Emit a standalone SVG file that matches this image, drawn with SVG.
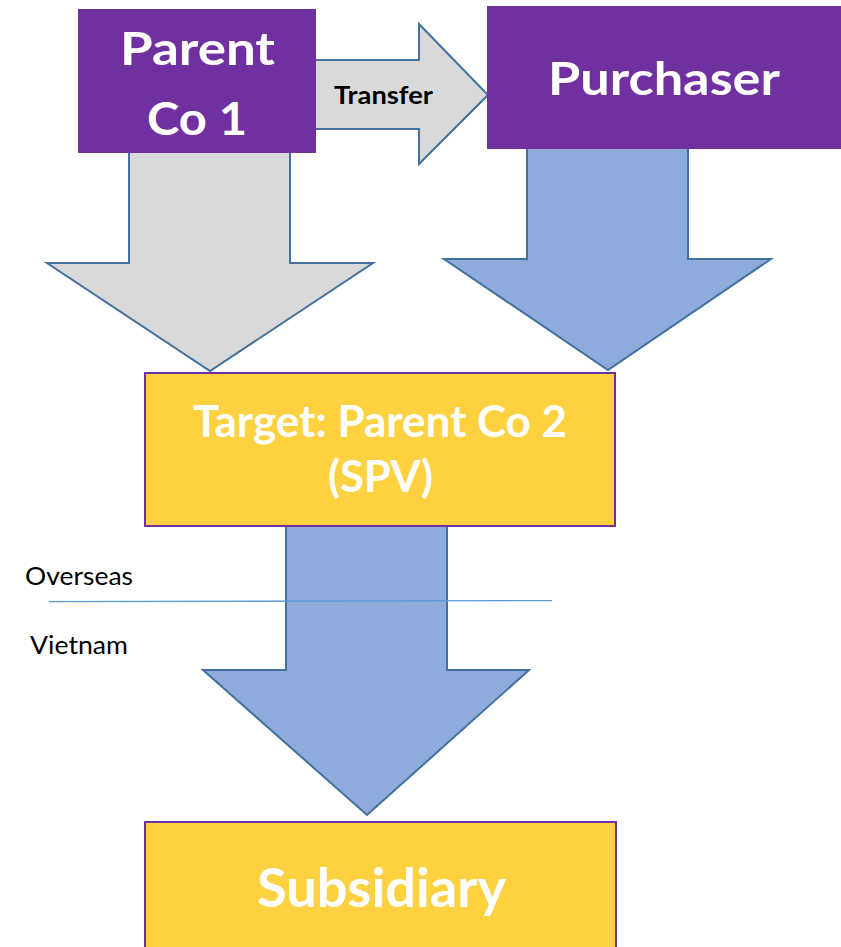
<svg xmlns="http://www.w3.org/2000/svg" width="841" height="947" viewBox="0 0 841 947">
  <style>
    .purple { fill: #7030A0; }
    .gold { fill: #FED140; stroke: #7030A0; stroke-width: 2; }
    .arrow-grey { fill: #D9D9D9; stroke: #41719C; stroke-width: 2; stroke-linejoin: miter; }
    .arrow-blue { fill: #8FABDB; stroke: #41719C; stroke-width: 2; stroke-linejoin: miter; }
    .label { font-family: Lato, "Liberation Sans", sans-serif; font-weight: bold; fill: #FFFFFF; text-anchor: middle; }
    .small { font-family: Lato, "Liberation Sans", sans-serif; fill: #000000; }
    .divider { stroke: #5B9BD5; stroke-width: 1.3; fill: none; }
  </style>

  <rect width="841" height="947" fill="#FFFFFF"/>

  <!-- block arrows between entities -->
  <g id="connectors">
    <!-- Parent Co 1 to Purchaser: transfer -->
    <polygon class="arrow-grey" points="315,60 419,60 419,24 488,95 419,164 419,129 315,129"/>
    <!-- Parent Co 1 down to the SPV -->
    <polygon class="arrow-grey" points="129,152 290,152 290,263 373,263 210,371 47,263 129,263"/>
    <!-- Purchaser down to the SPV -->
    <polygon class="arrow-blue" points="527,148 688,148 688,259 771,259 608,370 444,259 527,259"/>
    <!-- SPV down to the subsidiary -->
    <polygon class="arrow-blue" points="286,525 447,525 447,670 529,670 367,815 203,670 286,670"/>
  </g>

  <g id="parent-co-1">
    <rect class="purple" x="78" y="9" width="238" height="144"/>
    <text class="label" x="197.5" y="65" font-size="46" textLength="155" lengthAdjust="spacingAndGlyphs">Parent</text>
    <text class="label" x="197" y="135" font-size="46" textLength="100" lengthAdjust="spacingAndGlyphs">Co 1</text>
  </g>

  <g id="purchaser">
    <rect class="purple" x="487" y="6" width="360" height="143"/>
    <text class="label" x="664" y="95" font-size="46" textLength="232" lengthAdjust="spacingAndGlyphs">Purchaser</text>
  </g>

  <g id="transfer-label">
    <text x="383.5" y="104" font-family="Lato, 'Liberation Sans', sans-serif" font-weight="bold" font-size="24" fill="#000000" text-anchor="middle" textLength="99" lengthAdjust="spacingAndGlyphs">Transfer</text>
  </g>

  <g id="target-spv">
    <rect class="gold" x="145" y="373" width="470" height="153"/>
    <text class="label" x="380" y="437" font-size="43" textLength="374" lengthAdjust="spacingAndGlyphs">Target: Parent Co 2</text>
    <text class="label" x="380.5" y="492" font-size="43" textLength="105" lengthAdjust="spacingAndGlyphs">(SPV)</text>
  </g>

  <g id="subsidiary">
    <rect class="gold" x="145" y="822" width="471" height="140"/>
    <text class="label" x="381.5" y="907" font-size="53" textLength="249" lengthAdjust="spacingAndGlyphs">Subsidiary</text>
  </g>

  <!-- jurisdiction boundary -->
  <g id="boundary">
    <line class="divider" x1="49" y1="601.7" x2="552" y2="600.6"/>
    <text class="small" x="25" y="585" font-size="25" textLength="108" lengthAdjust="spacingAndGlyphs">Overseas</text>
    <text class="small" x="30" y="654" font-size="25" textLength="98" lengthAdjust="spacingAndGlyphs">Vietnam</text>
  </g>
</svg>
